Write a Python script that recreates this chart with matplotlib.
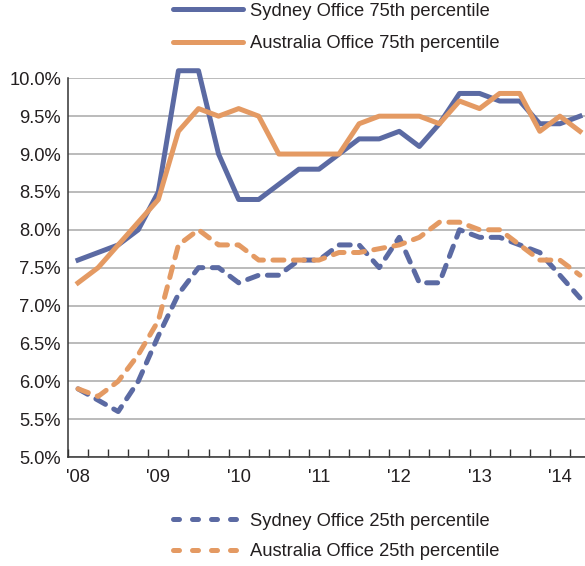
import numpy as np
import matplotlib
matplotlib.use("Agg")
import matplotlib.pyplot as plt
from matplotlib.lines import Line2D
from matplotlib.ticker import FixedLocator, FixedFormatter, NullFormatter

plt.rcParams['font.family'] = ['Liberation Sans Narrow', 'Liberation Sans', 'DejaVu Sans']

# ---- data (quarterly, 2008Q1 .. 2014Q2) ----
year_labels = ["'08", "'09", "'10", "'11", "'12", "'13", "'14"]
sydney_75 = [7.6, 7.7, 7.8, 8.0, 8.5, 10.1, 10.1, 9.0, 8.4, 8.4, 8.6, 8.8, 8.8,
             9.0, 9.2, 9.2, 9.3, 9.1, 9.4, 9.8, 9.8, 9.7, 9.7, 9.4, 9.4, 9.5]
australia_75 = [7.3, 7.5, 7.8, 8.1, 8.4, 9.3, 9.6, 9.5, 9.6, 9.5, 9.0, 9.0, 9.0,
                9.0, 9.4, 9.5, 9.5, 9.5, 9.4, 9.7, 9.6, 9.8, 9.8, 9.3, 9.5, 9.3]
sydney_25 = [5.9, 5.75, 5.6, 6.0, 6.6, 7.15, 7.5, 7.5, 7.3, 7.4, 7.4, 7.6, 7.6,
             7.8, 7.8, 7.5, 7.9, 7.3, 7.3, 8.0, 7.9, 7.9, 7.8, 7.7, 7.4, 7.1]
australia_25 = [5.9, 5.8, 6.0, 6.35, 6.8, 7.8, 8.0, 7.8, 7.8, 7.6, 7.6, 7.6, 7.6,
                7.7, 7.7, 7.75, 7.8, 7.9, 8.1, 8.1, 8.0, 8.0, 7.8, 7.6, 7.6, 7.4]
series_names = ["Sydney Office 75th percentile", "Australia Office 75th percentile",
                "Sydney Office 25th percentile", "Australia Office 25th percentile"]
y_ticks = [5.0, 5.5, 6.0, 6.5, 7.0, 7.5, 8.0, 8.5, 9.0, 9.5, 10.0]

BLUE = "#5B6AA3"
ORANGE = "#E49A63"
TXT = "#231F20"
FS = 13.2
LW = 3.6
CHART_DASH = (2.2, 1.9)
LEG_DASH = (1.2, 2.6)

W, H = 585, 566
fig = plt.figure(figsize=(W / 100, H / 100), dpi=100)
x0, x1 = 68, 590
ytop, ybot = 78.3, 457
ax = fig.add_axes([x0 / W, 1 - ybot / H, (x1 - x0) / W, (ybot - ytop) / H])

n = len(sydney_75)
x = np.arange(n) + 0.5

ax.plot(x, sydney_75, color=BLUE, lw=LW, clip_on=False, zorder=3)
ax.plot(x, australia_75, color=ORANGE, lw=LW, clip_on=False, zorder=4)
ax.plot(x, sydney_25, color=BLUE, lw=LW, ls=(0, CHART_DASH), dash_capstyle='round',
        clip_on=False, zorder=3)
ax.plot(x, australia_25, color=ORANGE, lw=LW, ls=(0, CHART_DASH), dash_capstyle='round',
        clip_on=False, zorder=4)

ax.set_xlim(0, 26)
ax.set_ylim(5.0, 10.0)

# y axis
ax.set_yticks(y_ticks)
ax.set_yticklabels([f"{v:.1f}%" for v in y_ticks])
ax.tick_params(axis='y', length=0, pad=5, labelsize=FS, labelcolor=TXT)
ax.yaxis.grid(True, color="#A8A8A8", lw=1.1)
ax.set_axisbelow(True)

# x axis: quarter boundary ticks, year labels at first-quarter centres
ax.xaxis.set_major_locator(FixedLocator(np.arange(0, 27)))
ax.xaxis.set_major_formatter(NullFormatter())
ax.xaxis.set_minor_locator(FixedLocator(np.arange(len(year_labels)) * 4 + 0.5))
ax.xaxis.set_minor_formatter(FixedFormatter(year_labels))
ax.tick_params(axis='x', which='major', direction='in', length=6, width=1, color="#333333")
ax.tick_params(axis='x', which='minor', length=0, pad=9, labelsize=FS, labelcolor=TXT)

for s in ['top', 'right']:
    ax.spines[s].set_visible(False)
for s in ['left', 'bottom']:
    ax.spines[s].set_color("#333333")
    ax.spines[s].set_linewidth(1.1)

# legends (four rows, two above and two below the plot)
def leg_handle(color, dashed):
    if dashed:
        return Line2D([], [], color=color, lw=LW, ls=(0, LEG_DASH), dash_capstyle='round')
    return Line2D([], [], color=color, lw=LW, solid_capstyle='round')

rows = [
    (leg_handle(BLUE, False), series_names[0], 11),
    (leg_handle(ORANGE, False), series_names[1], 44),
    (leg_handle(BLUE, True), series_names[2], 521),
    (leg_handle(ORANGE, True), series_names[3], 552),
]
for h, lab, ypx in rows:
    lg = fig.legend([h], [lab], loc='center left', bbox_to_anchor=(173 / W, 1 - ypx / H),
                    frameon=False, fontsize=FS, handlelength=3.8, handletextpad=0.4,
                    borderpad=0, borderaxespad=0)
    for t in lg.get_texts():
        t.set_color(TXT)

fig.savefig("out.png", dpi=100)
